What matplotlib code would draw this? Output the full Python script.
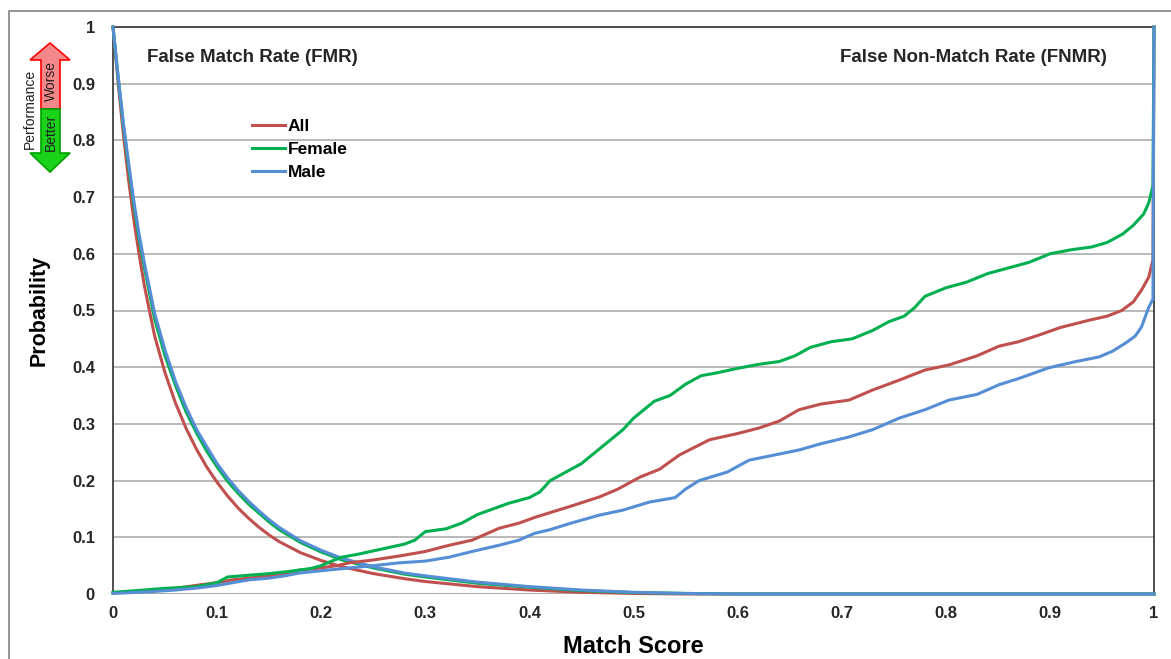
import matplotlib
matplotlib.use("Agg")
import matplotlib.pyplot as plt
from matplotlib.patches import Polygon

plt.rcParams["font.family"] = ["Liberation Sans", "DejaVu Sans"]
plt.rcParams["font.weight"] = "bold"

# False match rate (smooth, falling)
fmr_x = [0, 0.005, 0.01, 0.015, 0.02, 0.025, 0.03, 0.04, 0.05, 0.06, 0.07, 0.08, 0.09,
         0.1, 0.11, 0.12, 0.13, 0.14, 0.15, 0.16, 0.18, 0.2, 0.22, 0.25, 0.28, 0.3,
         0.35, 0.4, 0.45, 0.5, 0.55, 0.6, 1.0]
fmr_all = [1, 0.9, 0.81, 0.73, 0.66, 0.6, 0.545, 0.455, 0.39, 0.337, 0.293, 0.256, 0.224,
           0.197, 0.173, 0.152, 0.134, 0.118, 0.104, 0.092, 0.073, 0.059, 0.048, 0.036, 0.027, 0.022,
           0.013, 0.007, 0.003, 0.001, 0, 0, 0]
fmr_female = [1, 0.91, 0.826, 0.753, 0.686, 0.627, 0.577, 0.485, 0.42, 0.368, 0.322, 0.285, 0.252,
              0.224, 0.199, 0.178, 0.159, 0.143, 0.127, 0.113, 0.091, 0.074, 0.06, 0.046, 0.035, 0.03,
              0.019, 0.012, 0.006, 0.0025, 0.001, 0, 0]
fmr_male = [1, 0.912, 0.83, 0.76, 0.693, 0.635, 0.585, 0.495, 0.43, 0.375, 0.33, 0.291, 0.26,
            0.23, 0.205, 0.183, 0.164, 0.147, 0.131, 0.117, 0.094, 0.077, 0.063, 0.048, 0.037, 0.032,
            0.021, 0.013, 0.007, 0.003, 0.001, 0, 0]

# False non-match rate (rising, jumps to 1 at score 1)
fnmr_x_all = [0, 0.036, 0.06, 0.083, 0.1, 0.115, 0.131, 0.15, 0.165, 0.179,
              0.2, 0.215, 0.227, 0.25, 0.275, 0.3, 0.323, 0.345, 0.371, 0.39,
              0.405, 0.419, 0.44, 0.467, 0.485, 0.506, 0.525, 0.544, 0.56, 0.573,
              0.6, 0.621, 0.64, 0.659, 0.68, 0.707, 0.73, 0.755, 0.78, 0.803,
              0.83, 0.851, 0.87, 0.89, 0.91, 0.938, 0.955, 0.969, 0.98, 0.988,
              0.995, 0.999, 1.0]
fnmr_y_all = [0.002, 0.005, 0.01, 0.016, 0.02, 0.025, 0.028, 0.032, 0.036, 0.042,
              0.046, 0.05, 0.055, 0.06, 0.067, 0.075, 0.086, 0.095, 0.116, 0.125,
              0.135, 0.143, 0.155, 0.171, 0.185, 0.206, 0.22, 0.245, 0.26, 0.272,
              0.283, 0.293, 0.305, 0.325, 0.335, 0.342, 0.36, 0.377, 0.395, 0.404,
              0.42, 0.437, 0.445, 0.457, 0.47, 0.483, 0.49, 0.5, 0.515, 0.536,
              0.559, 0.59, 1.0]
fnmr_x_female = [0, 0.03, 0.05, 0.08, 0.1, 0.11, 0.13, 0.15, 0.17, 0.19,
                 0.2, 0.21, 0.22, 0.235, 0.25, 0.265, 0.28, 0.29, 0.3, 0.32,
                 0.335, 0.35, 0.365, 0.38, 0.4, 0.41, 0.42, 0.435, 0.45, 0.46,
                 0.47, 0.48, 0.49, 0.5, 0.51, 0.52, 0.535, 0.55, 0.565, 0.58,
                 0.6, 0.62, 0.64, 0.655, 0.67, 0.69, 0.71, 0.73, 0.745, 0.76,
                 0.77, 0.78, 0.8, 0.82, 0.84, 0.86, 0.88, 0.9, 0.92, 0.94,
                 0.955, 0.97, 0.98, 0.99, 0.995, 0.999, 1.0]
fnmr_y_female = [0.003, 0.007, 0.01, 0.013, 0.02, 0.03, 0.033, 0.036, 0.04, 0.045,
                 0.05, 0.058, 0.065, 0.07, 0.076, 0.082, 0.088, 0.095, 0.11, 0.115,
                 0.125, 0.14, 0.15, 0.16, 0.17, 0.18, 0.2, 0.215, 0.23, 0.245,
                 0.26, 0.275, 0.29, 0.31, 0.325, 0.34, 0.35, 0.37, 0.385, 0.39,
                 0.398, 0.405, 0.41, 0.42, 0.435, 0.445, 0.45, 0.465, 0.48, 0.49,
                 0.505, 0.525, 0.54, 0.55, 0.565, 0.575, 0.585, 0.6, 0.607, 0.612,
                 0.62, 0.635, 0.65, 0.67, 0.69, 0.72, 1.0]
fnmr_x_male = [0, 0.036, 0.06, 0.083, 0.1, 0.115, 0.131, 0.15, 0.165, 0.179,
               0.2, 0.227, 0.25, 0.275, 0.3, 0.323, 0.345, 0.371, 0.39, 0.405,
               0.419, 0.44, 0.467, 0.49, 0.515, 0.54, 0.55, 0.563, 0.59, 0.611,
               0.635, 0.659, 0.68, 0.707, 0.73, 0.755, 0.78, 0.803, 0.83, 0.851,
               0.87, 0.899, 0.925, 0.947, 0.96, 0.973, 0.982, 0.988, 0.995, 0.999,
               1.0]
fnmr_y_male = [0.001, 0.004, 0.007, 0.011, 0.015, 0.02, 0.025, 0.028, 0.032, 0.037,
               0.041, 0.046, 0.05, 0.055, 0.058, 0.065, 0.075, 0.086, 0.095, 0.107,
               0.113, 0.125, 0.139, 0.148, 0.162, 0.17, 0.185, 0.2, 0.215, 0.236,
               0.245, 0.254, 0.265, 0.277, 0.29, 0.31, 0.325, 0.342, 0.352, 0.369,
               0.38, 0.399, 0.41, 0.418, 0.428, 0.443, 0.455, 0.471, 0.506, 0.52,
               1.0]

series = ["All", "Female", "Male"]
colors = {"All": "#C0504D", "Female": "#00B050", "Male": "#558ED5"}
fmr = {"All": fmr_all, "Female": fmr_female, "Male": fmr_male}
fnmr = {"All": (fnmr_x_all, fnmr_y_all), "Female": (fnmr_x_female, fnmr_y_female),
        "Male": (fnmr_x_male, fnmr_y_male)}

ticks = [0, 0.1, 0.2, 0.3, 0.4, 0.5, 0.6, 0.7, 0.8, 0.9, 1]
tick_labels = ["0", "0.1", "0.2", "0.3", "0.4", "0.5", "0.6", "0.7", "0.8", "0.9", "1"]

W, H = 1171, 659
fig = plt.figure(figsize=(W / 100, H / 100), dpi=100)

# pixel-space overlay for the frame and the performance arrow
bg = fig.add_axes([0, 0, 1, 1])
bg.set_xlim(0, W)
bg.set_ylim(H, 0)
bg.axis("off")
bg.plot([8.5, 8.5, W + 5], [H + 5, 10.5, 10.5], color="#8C8C8C", lw=1.3)

up = Polygon([(41, 109), (41, 60), (30, 60), (50, 43), (70, 60), (60, 60), (60, 109)],
             closed=True, facecolor="#F4878A", edgecolor="#FF0000", lw=1.2)
down = Polygon([(41, 109), (41, 153), (30, 153), (50, 172), (70, 153), (60, 153), (60, 109)],
               closed=True, facecolor="#19D219", edgecolor="#00A000", lw=1.2)
bg.add_patch(up)
bg.add_patch(down)
bg.text(51, 81, "Worse", rotation=90, ha="center", va="center",
        fontsize=10, fontweight="normal", color="#202020")
bg.text(51, 132, "Better", rotation=90, ha="center", va="center",
        fontsize=10, fontweight="normal", color="#202020")
bg.text(30, 109, "Performance", rotation=90, ha="center", va="center",
        fontsize=10, fontweight="normal", color="#202020")

ax = fig.add_axes([113 / W, 1 - 594 / H, (1154 - 113) / W, (594 - 27) / H])
ax.set_xlim(0, 1)
ax.set_ylim(0, 1)
ax.grid(axis="y", color="#A6A6A6", lw=1.1)
ax.axhline(0, color="#A6A6A6", lw=1.1, zorder=1)
ax.set_axisbelow(True)

for name in series:
    ax.plot(fmr_x, fmr[name], color=colors[name], lw=2.2, label=name,
            clip_on=False, zorder=3)
for name in series:
    x, y = fnmr[name]
    ax.plot(x, y, color=colors[name], lw=2.2, clip_on=False, zorder=3)

ax.set_xticks(ticks)
ax.set_xticklabels(tick_labels)
ax.set_yticks(ticks)
ax.set_yticklabels(tick_labels)
ax.tick_params(length=0, labelsize=12, colors="#262626", pad=9)
ax.tick_params(axis="y", pad=13)

for side in ["left", "top", "right"]:
    ax.spines[side].set_color("#404040")
    ax.spines[side].set_linewidth(1.3)
ax.spines["bottom"].set_visible(False)

ax.set_xlabel("Match Score", fontsize=17, fontweight="bold", labelpad=10)
ax.set_ylabel("Probability", fontsize=15.5, fontweight="bold", labelpad=16)

ax.text(0.033, 0.947, "False Match Rate (FMR)", transform=ax.transAxes,
        fontsize=13.5, fontweight="bold", color="#262626", va="center")
ax.text(0.955, 0.947, "False Non-Match Rate (FNMR)", transform=ax.transAxes,
        fontsize=13.5, fontweight="bold", color="#262626", va="center", ha="right")

ax.legend(loc="upper left", bbox_to_anchor=(0.1335, 0.838), frameon=False,
          fontsize=12.5, handlelength=1.9, handletextpad=0.15, labelspacing=0.45,
          borderaxespad=0, borderpad=0)

fig.savefig("out.png", dpi=100)
